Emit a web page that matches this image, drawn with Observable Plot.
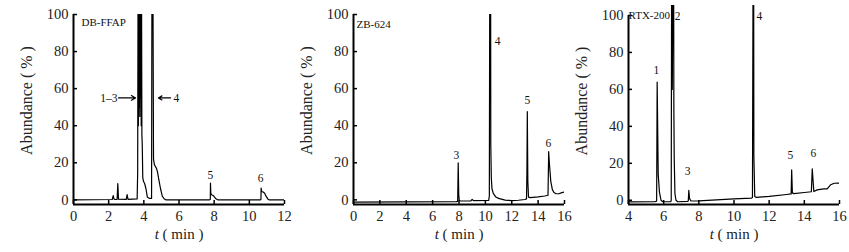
<!DOCTYPE html>
<html><head><meta charset="utf-8">
<script src="https://cdn.jsdelivr.net/npm/d3@7"></script>
<script src="https://cdn.jsdelivr.net/npm/@observablehq/plot@0.6"></script>
<style>
body{margin:0;background:#fff;}
#wrap{position:relative;width:849px;height:252px;overflow:hidden;background:#fff;}
.panel{position:absolute;top:0;}
</style></head><body><div id="wrap"></div>
<script>
// ---- DB-FFAP column ----
const ffapTime = [0,2.2,2.26,2.3,2.36,2.48,2.52,2.56,3.0,3.05,3.1,3.62,3.65,3.67,3.69,3.71,3.73,3.75,3.77,3.79,3.81,3.83,3.85,3.87,3.89,3.91,3.94,3.98,4.05,4.12,4.2,4.3,4.44,4.46,4.52,4.55,4.6,4.66,4.72,4.78,4.85,4.95,5.05,5.15,5.25,7.72,7.78,7.79,7.81,7.85,7.92,8.0,8.1,8.2,10.62,10.66,10.67,10.7,10.8,10.87,10.95,11.05,11.12,12];
const ffapAbund = [0,0.2,2.3,0.5,0.2,0.3,8.8,0.4,0.3,2.8,0.3,0.5,15,110,40,110,50,110,45,110,55,110,40,110,35,30,12,10,8.7,6,1.5,0.8,0.8,110,110,22,19,18,17,15,11,6,2,0.6,0,0,0.2,9,3.5,2.8,2.5,1.8,0.6,0,0,0.2,6.4,4.5,4.2,3.6,2,0.5,0,0];
const ffapLabelText = ["5","6"];
const ffapLabelTime = [7.79,10.64];
const ffapLabelAbund = [13.2,11.4];
const ffapArrowText = ["1–3","4"];
const ffapArrowFrom = [2.56,5.52];
const ffapArrowTo = [3.53,4.83];
const ffapArrowAbund = [55,55];

// ---- ZB-624 column ----
const zbTime = [0,4,7.8,7.9,7.94,7.98,8.02,8.1,8.9,9.0,9.1,10.25,10.3,10.33,10.4,10.41,10.45,10.5,10.6,10.8,11,11.5,12,12.5,13.0,13.12,13.15,13.18,13.22,13.27,13.4,14.0,14.5,14.75,14.8,14.85,14.96,15.08,15.2,15.33,15.58,15.8,16];
const zbAbund = [-1.2,-1.1,-0.9,-0.8,20,3,-0.3,-0.6,-0.5,0.2,-0.4,-0.3,2,110,110,30,12,6,3.5,1.5,0.8,-0.1,-0.4,-0.2,0.2,0.5,15,47.6,10,1.5,1.2,1.6,2.1,2.5,26,20,10,5.5,4,3.4,3.3,3.9,4.3];
const zbLabelText = ["3","4","5","6"];
const zbLabelTime = [7.81,10.92,13.19,14.78];
const zbLabelAbund = [24,85.4,53.6,30.4];

// ---- RTX-200 column ----
const rtxTime = [4,5.5,5.6,5.63,5.69,5.76,5.85,5.95,6.4,6.43,6.45,6.49,6.52,6.57,6.58,6.6,6.64,6.7,6.8,7.35,7.4,7.43,7.47,7.55,8,9,10,11,11.05,11.08,11.12,11.13,11.18,11.25,12,13,13.25,13.28,13.32,13.4,14,14.4,14.45,14.54,14.73,15.1,15.3,15.5,15.7,15.96];
const rtxAbund = [-0.9,-0.8,-0.5,64,14,4.4,0,-0.8,-0.8,0,110,60,110,110,49,23,3.6,0,-0.8,-0.6,-0.4,5.4,1,-0.4,-0.3,0.2,0.7,1.2,1.5,110,110,24,2,1.6,2.1,3.1,3.4,16.4,4,3.6,4.2,4.6,17,4.7,5.6,6.2,6.2,8.4,9.2,9.3];
const rtxLabelText = ["1","2","3","4","5","6"];
const rtxLabelTime = [5.59,6.79,7.36,11.45,13.21,14.52];
const rtxLabelAbund = [70.2,99.4,15.6,99.4,24.2,25.3];

const yTicks = [0,20,40,60,80,100];
const yTitle = "Abundance ( % )";
const xTitle = "t ( min )";

const FONT = "'Liberation Serif', 'DejaVu Serif', serif";

function drawPanel(cfg) {
  const data = d3.zip(cfg.time, cfg.abund).map(([t, a]) => ({t, a}));
  const labels = d3.zip(cfg.labelText, cfg.labelTime, cfg.labelAbund).map(([s, t, a]) => ({s, t, a}));
  const [x0, x1] = cfg.xDomain;
  const y0 = cfg.yDomain[0];
  const marks = [
    Plot.line(data, {x: "t", y: "a", stroke: "#000", strokeWidth: 1.2, clip: true}),
    Plot.ruleY([y0], {x1: x0, x2: x1, stroke: "#000", strokeWidth: 2}),
    Plot.ruleX([x0], {y1: y0, y2: 100, stroke: "#000", strokeWidth: 2}),
    Plot.axisX({ticks: cfg.xTicks, tickSize: -4, tickPadding: 10, strokeWidth: 1.5, label: null, fontSize: 14.5, fill: "#222"}),
    Plot.axisY({ticks: yTicks, tickSize: -4, tickPadding: 9, strokeWidth: 1.5, label: null, fontSize: 14.5, fill: "#222"}),
    Plot.text([cfg.name], {frameAnchor: "top-left", dx: cfg.nameDx, dy: cfg.nameDy, fontSize: 11, textAnchor: "start", lineAnchor: "middle", fill: "#111"}),
    Plot.text(labels, {x: "t", y: "a", text: "s", fontSize: 11.5, fill: "#111"}),
    Plot.text([yTitle], {frameAnchor: "left", textAnchor: "middle", dx: -47, dy: cfg.yTitleDy, rotate: -90, fontSize: 16, fill: "#222"}),
    Plot.text([xTitle], {frameAnchor: "bottom", dy: 34, fontSize: 15, fill: "#222"})
  ];
  if (cfg.arrowText) {
    const arrows = d3.zip(cfg.arrowText, cfg.arrowFrom, cfg.arrowTo, cfg.arrowAbund).map(([s, f, t, a]) => ({s, f, t, a}));
    marks.push(Plot.arrow(arrows, {x1: "f", x2: "t", y1: "a", y2: "a", stroke: "#000", strokeWidth: 1.2, headLength: 6, bend: 0}));
    marks.push(Plot.text(arrows.filter(d => d.t > d.f), {x: "f", y: "a", text: "s", textAnchor: "end", dx: -1, fontSize: 11.5, fill: "#111"}));
    marks.push(Plot.text(arrows.filter(d => d.t < d.f), {x: "f", y: "a", text: "s", textAnchor: "start", dx: 3, fontSize: 11.5, fill: "#111"}));
  }
  const svg = Plot.plot({
    width: cfg.width, height: 252,
    marginLeft: 73, marginRight: cfg.marginRight, marginTop: cfg.marginTop, marginBottom: 48,
    x: {domain: cfg.xDomain, axis: null},
    y: {domain: cfg.yDomain, axis: null},
    style: {fontFamily: FONT, background: "transparent", overflow: "visible"},
    marks
  });
  d3.select(svg).selectAll("text").each(function() {
    if (this.textContent === xTitle) {
      const sel = d3.select(this);
      sel.text(null);
      sel.append("tspan").attr("font-style", "italic").text("t");
      sel.append("tspan").text(" ( min )");
    }
  });
  const div = document.createElement("div");
  div.className = "panel";
  div.style.left = cfg.left + "px";
  div.appendChild(svg);
  document.getElementById("wrap").appendChild(div);
}

drawPanel({name: "DB-FFAP", time: ffapTime, abund: ffapAbund, labelText: ffapLabelText, labelTime: ffapLabelTime, labelAbund: ffapLabelAbund,
  arrowText: ffapArrowText, arrowFrom: ffapArrowFrom, arrowTo: ffapArrowTo, arrowAbund: ffapArrowAbund,
  xDomain: [0, 12], xTicks: d3.range(0, 13, 2), yDomain: [-2.5, 100], marginTop: 14, marginRight: 6, width: 290, left: 0, nameDx: 8, nameDy: 8, yTitleDy: -9});
drawPanel({name: "ZB-624", time: zbTime, abund: zbAbund, labelText: zbLabelText, labelTime: zbLabelTime, labelAbund: zbLabelAbund,
  xDomain: [0, 16], xTicks: d3.range(0, 17, 2), yDomain: [-2.5, 100], marginTop: 14, marginRight: 6, width: 290, left: 280, nameDx: 3, nameDy: 10, yTitleDy: -9});
drawPanel({name: "RTX-200", time: rtxTime, abund: rtxAbund, labelText: rtxLabelText, labelTime: rtxLabelTime, labelAbund: rtxLabelAbund,
  xDomain: [4, 16], xTicks: d3.range(4, 17, 2), yDomain: [-2.3, 105.4], marginTop: 5, marginRight: 10, width: 294, left: 555, nameDx: 0, nameDy: 10, yTitleDy: -4});
</script></body></html>
